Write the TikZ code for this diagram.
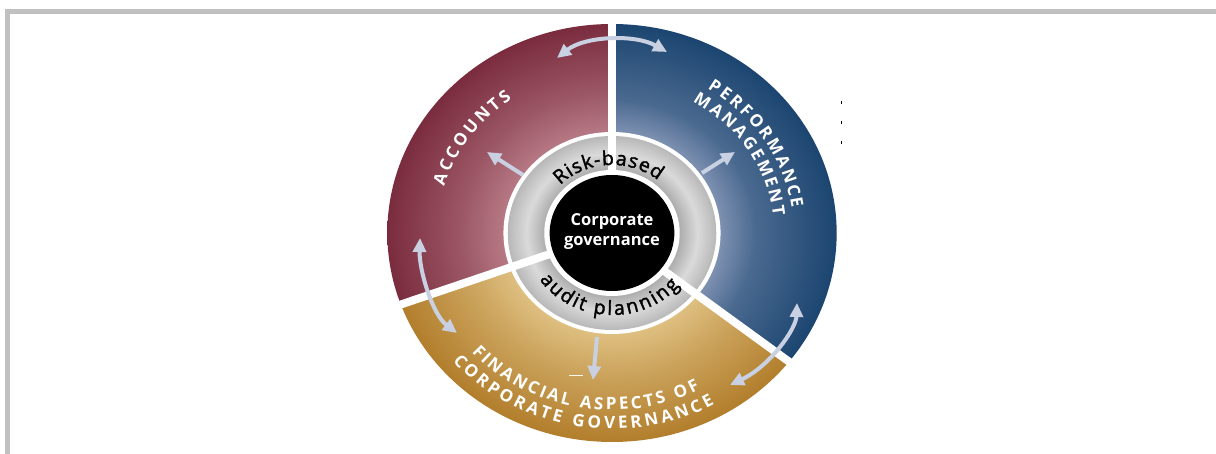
\documentclass[tikz,border=0pt]{standalone}
\usepackage{fontspec}
\setmainfont{Open Sans}
\newfontfamily\osans{Open Sans}
\newfontfamily\osanssemi{Open Sans}[FakeBold=1.8]
\usetikzlibrary{arrows.meta}
\definecolor{framegray}{HTML}{C0C0C0}
\definecolor{redA}{HTML}{BC808B}
\definecolor{redB}{HTML}{7A2C3E}
\definecolor{blueA}{HTML}{8B9BBA}
\definecolor{blueB}{HTML}{1B4570}
\definecolor{goldA}{HTML}{E2C588}
\definecolor{goldB}{HTML}{B27E2C}
\colorlet{redM}{redA!50!redB}
\colorlet{blueM}{blueA!42!blueB}
\colorlet{goldM}{goldA!52!goldB}
\definecolor{grayA}{HTML}{ABABAB}
\definecolor{grayB}{HTML}{DADADA}
\definecolor{grayC}{HTML}{B8B8B8}
\definecolor{arrowc}{HTML}{C9D0E2}
\pgfdeclareradialshading{redsh}{\pgfpoint{0bp}{0bp}}{color(0bp)=(redA);color(11bp)=(redA);color(17bp)=(redM);color(25bp)=(redB);color(50bp)=(redB)}
\pgfdeclareradialshading{bluesh}{\pgfpoint{0bp}{0bp}}{color(0bp)=(blueA);color(11bp)=(blueA);color(16bp)=(blueM);color(25bp)=(blueB);color(50bp)=(blueB)}
\pgfdeclareradialshading{goldsh}{\pgfpoint{0bp}{0bp}}{color(0bp)=(goldA);color(11bp)=(goldA);color(17bp)=(goldM);color(25bp)=(goldB);color(50bp)=(goldB)}
\pgfdeclareradialshading{graysh}{\pgfpoint{0bp}{0bp}}{color(0bp)=(grayA);color(16bp)=(grayA);color(20.5bp)=(grayB);color(25bp)=(grayC);color(50bp)=(grayC)}
\newcommand\capsfont{\osans\bfseries\fontsize{17}{17}\selectfont}
\newcommand\ringfont{\osanssemi\fontsize{19.5}{19.5}\selectfont}
\newcommand\corefont{\osans\bfseries\fontsize{16.5}{20}\selectfont}
\newcommand\wsp{\hspace*{5pt}}
\newdimen\arctot
\newdimen\archw
\newcount\ltrno
% #1 font, #2 baseline radius, #3 mid angle, #4 direction (1 clockwise, -1 counter-clockwise), #5 tracking, #6 characters, #7 node options
\newcommand\curvetext[7]{%
  \global\arctot=0pt
  \foreach \ch in {#6}{\pgfinterruptpicture\setbox0\hbox{#1\ch}\global\advance\arctot by \wd0\global\advance\arctot by #5pt\relax\endpgfinterruptpicture}%
  \global\advance\arctot by -#5pt\relax
  \pgfmathsetmacro\arcstart{#3+(#4)*(\arctot/2)/(#2)*180/pi}%
  \global\let\arcang\arcstart
  \foreach \ch in {#6}{%
    \pgfinterruptpicture\setbox0\hbox{#1\ch}\global\archw=\wd0\relax\endpgfinterruptpicture
    \global\advance\ltrno by 1\relax
    \pgfmathsetmacro\mida{\arcang-(#4)*(\archw/2)/(#2)*180/pi}%
    \node[#7,rotate={\mida-90*(#4)},anchor=base,inner sep=0pt] (ltr\the\ltrno) at (\mida:#2) {#1\ch};%
    \pgfmathsetmacro\nxt{\arcang-(#4)*(\archw+#5pt)/(#2)*180/pi}%
    \global\let\arcang\nxt
  }%
}
\tikzset{
  arr/.style={draw=arrowc, line width=4pt, -{Triangle[length=14pt,width=13pt]}},
  darr/.style={draw=arrowc, line width=4pt, {Triangle[length=14pt,width=13pt]}-{Triangle[length=14pt,width=13pt]}},
  divider/.style={draw=white, line width=8pt},
}
\begin{document}
\begin{tikzpicture}[x=1pt,y=1pt]
\useasboundingbox (0,0) rectangle (1216,454);
\fill[white] (0,0) rectangle (1216,454);
% frame
\fill[framegray] (5,440) rectangle (1216,445);
\fill[framegray] (5,0) rectangle (10,445);
\begin{scope}[shift={(612,221)}, xscale=1.075]
  % sectors
  \begin{scope}
    \clip (0,0) -- (90:300) -- (127:300) -- (163:300) -- (200:300) -- cycle;
    \shade[shading=redsh] (0,0) circle[radius=209];
  \end{scope}
  \begin{scope}
    \clip (0,0) -- (-38:300) -- (5:300) -- (47:300) -- (90:300) -- cycle;
    \shade[shading=bluesh] (0,0) circle[radius=209];
  \end{scope}
  \begin{scope}
    \clip (0,0) -- (200:300) -- (241:300) -- (281:300) -- (322:300) -- cycle;
    \shade[shading=goldsh] (0,0) circle[radius=209];
  \end{scope}
  % ring and core
  \fill[white] (0,0) circle[radius=101];
  \shade[shading=graysh] (0,0) circle[radius=97];
  \fill[white] (0,0) circle[radius=63];
  \fill[black] (0,0) circle[radius=58];
  % dividers
  \foreach \a in {90,200,322} \draw[divider] (\a:60) -- (\a:215);
\end{scope}
% connectors
\coordinate (t1) at (557,396); \coordinate (t2) at (667,402);
\draw[darr] (t1) .. controls (585,418) and (635,420) .. (t2);
\coordinate (l1) at (420,216); \coordinate (l2) at (457,121);
\draw[darr] (l1) .. controls (419,185) and (432,140) .. (l2);
\coordinate (r1) at (797,151); \coordinate (r2) at (730,69);
\draw[darr] (r1) .. controls (796,125) and (770,88) .. (r2);
\coordinate (ua) at (523,279); \coordinate (ub) at (487,302);
\draw[arr] (ua) -- (ub);
\coordinate (pa) at (702,281); \coordinate (pb) at (735,302);
\draw[arr] (pa) -- (pb);
\coordinate (da) at (597,117); \coordinate (db) at (593,74);
\draw[arr] (da) -- (db);
% small marks
\draw[black, line width=1pt] (841,350) -- (841,353);
\draw[black, line width=1pt] (841,330) -- (841,333);
\draw[black, line width=1pt] (841,310) -- (841,313);
\draw[white!85!goldA, line width=1pt] (569,78) -- (583,78);
% texts
\node[text=white, font=\corefont, align=center] (core) at (612,222) {Corporate\\governance};
\begin{scope}[shift={(612,221)}, xscale=1.075]
  \curvetext{\capsfont}{163}{144}{1}{2.4}{A,C,C,O,U,N,T,S}{text=white}
  \curvetext{\capsfont}{169}{33.5}{1}{2}{P,E,R,F,O,R,M,A,N,C,E}{text=white}
  \curvetext{\capsfont}{151}{33.5}{1}{2}{M,A,N,A,G,E,M,E,N,T}{text=white}
  \curvetext{\capsfont}{177}{260}{-1}{1.9}{F,I,N,A,N,C,I,A,L,\wsp,A,S,P,E,C,T,S,\wsp,O,F}{text=white}
  \curvetext{\capsfont}{196}{260}{-1}{2.3}{C,O,R,P,O,R,A,T,E,\wsp,G,O,V,E,R,N,A,N,C,E}{text=white}
  \curvetext{\ringfont}{68}{93}{1}{0.3}{R,i,s,k,-,b,a,s,e,d}{text=black}
  \curvetext{\ringfont}{82}{267.5}{-1}{1.6}{a,u,d,i,t,\wsp,p,l,a,n,n,i,n,g}{text=black}
\end{scope}
\end{tikzpicture}
\end{document}
